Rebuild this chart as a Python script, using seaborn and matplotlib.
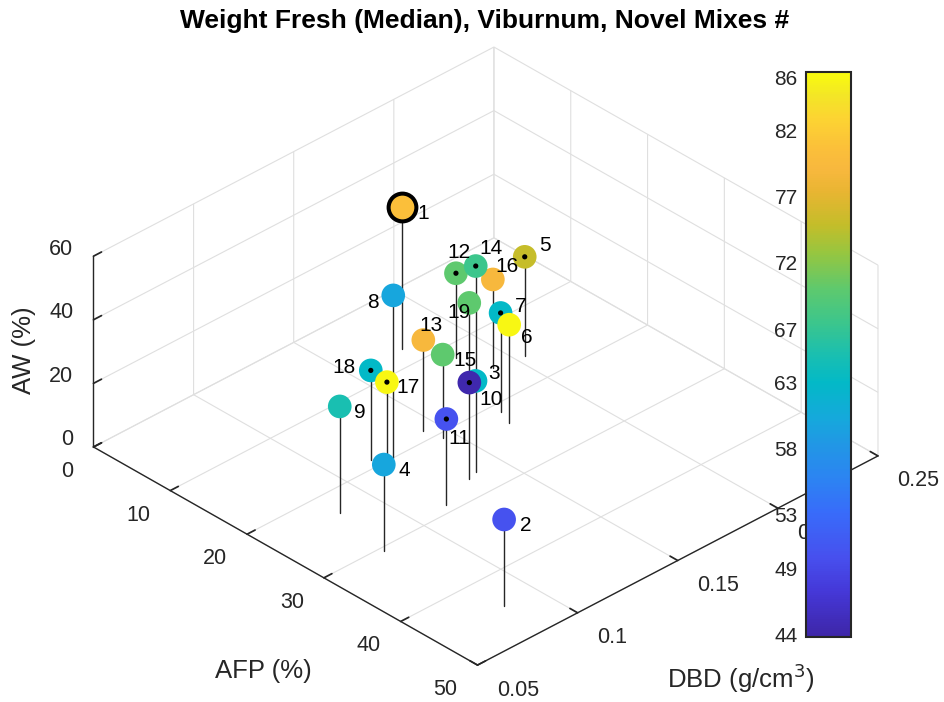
import numpy as np
import matplotlib
matplotlib.use("Agg")
import matplotlib.pyplot as plt
import seaborn as sns
from matplotlib.colors import LinearSegmentedColormap, Normalize
from matplotlib.cm import ScalarMappable
from mpl_toolkits.mplot3d import proj3d

# ---------------- data ----------------
mix_ids = [str(i) for i in range(1, 20)]
afp = [7.6, 44.6, 27.3, 30.5, 16.0, 23.1, 21.2, 20.0, 23.2, 26.8,
       29.0, 12.0, 18.7, 16.4, 20.7, 15.5, 21.0, 18.9, 16.6]
dbd = [0.175, 0.084, 0.133, 0.078, 0.204, 0.169, 0.172, 0.123, 0.084, 0.138,
       0.115, 0.185, 0.143, 0.178, 0.145, 0.190, 0.116, 0.116, 0.174]
aw = [44.8, 27.2, 30.4, 27.1, 31.1, 31.0, 31.1, 51.1, 33.4, 28.6,
      27.2, 26.7, 28.7, 37.3, 26.2, 27.9, 27.5, 28.3, 27.3]
weight_fresh = [80.5, 50, 44.2, 60, 75, 86, 63, 60, 65, 63,
                50, 70, 79, 67.5, 70, 79, 86, 63, 70]
dotted = [False, False, True, False, True, False, True, False, False, False,
          True, True, False, True, False, False, True, True, False]
highlight = "1"
afp_ticks = [0, 10, 20, 30, 40, 50]
afp_ticklabels = ["0", "10", "20", "30", "40", "50"]
dbd_ticks = [0.05, 0.1, 0.15, 0.2, 0.25]
dbd_ticklabels = ["0.05", "0.1", "0.15", "0.2", "0.25"]
aw_ticks = [0, 20, 40, 60]
aw_ticklabels = ["0", "20", "40", "60"]
cbar_ticks = [44, 49, 53, 58, 63, 67, 72, 77, 82, 86]
title = "Weight Fresh (Median), Viburnum, Novel Mixes #"
xlabel, ylabel, zlabel = "AFP (%)", "DBD (g/cm$^3$)", "AW (%)"

# label offsets in pixels (right, down) relative to marker centre
label_offsets = {"1": (21, 7), "2": (22, 6.5), "3": (25, -9.5), "4": (21, 6),
                 "5": (20, -11), "6": (18, 13), "7": (20, -6), "8": (-20, 7),
                 "9": (20.5, 6.5), "10": (15.5, 19), "11": (13, 19),
                 "12": (3, -21), "13": (8, -15), "14": (15, -18),
                 "15": (22.5, 6), "16": (14, -12.5), "17": (21, 5.5),
                 "18": (-27, -3), "19": (-10, 10)}

# ---------------- style ----------------
sns.set_theme(style="white")
plt.rcParams["font.family"] = ["Liberation Sans", "DejaVu Sans"]
plt.rcParams["grid.color"] = "#dfdfdf"
plt.rcParams["grid.linewidth"] = 0.8
if "axes3d.automargin" in plt.rcParams:
    plt.rcParams["axes3d.automargin"] = False

TXT = "#262626"
parula_pos = [0.0, 0.08, 0.14, 0.22, 0.28, 0.34, 0.385, 0.45, 0.50, 0.56,
              0.615, 0.68, 0.73, 0.79, 0.83, 0.865, 0.92, 0.96, 1.0]
parula_hex = ["#3E26A8", "#4538D8", "#4750EE", "#386CFA", "#2C84F2", "#2197E5",
              "#16A8DC", "#03B9C7", "#1ABFB0", "#3EC68A", "#5DC96E", "#96C640",
              "#C4BD2A", "#E9B532", "#F8B83E", "#FBBF3A", "#FCD432", "#F3E626",
              "#F9FB0E"]
parula = LinearSegmentedColormap.from_list("parula", list(zip(parula_pos, parula_hex)))
norm = Normalize(vmin=43.8, vmax=86.4)

W_PX, H_PX = 944, 702
fig = plt.figure(figsize=(W_PX / 100, H_PX / 100), dpi=100)
fig.patch.set_facecolor("white")
ax = fig.add_axes([0.1, 0.1, 0.7, 0.7 * W_PX / H_PX], projection="3d")
ax.set_proj_type("ortho")
ax.view_init(elev=33.0, azim=-43.8)
ax.set_box_aspect((1, 1, 0.41))
ax.computed_zorder = False
ax.patch.set_alpha(0)

ax.set_xlim(0, 50)
ax.set_ylim(0.05, 0.25)
ax.set_zlim(0, 60)
ax.set_xticks(afp_ticks)
ax.set_yticks(dbd_ticks)
ax.set_zticks(aw_ticks)
ax.zaxis.set_ticks_position("lower")
ax.zaxis.set_label_position("lower")

for axis in (ax.xaxis, ax.yaxis, ax.zaxis):
    axis.set_pane_color((1, 1, 1, 0))
    axis.pane.set_edgecolor("#dfdfdf")
    axis.line.set_color(TXT)
    axis.line.set_linewidth(1.0)
    axis._axinfo["tick"]["inward_factor"] = 0.0
    axis._axinfo["tick"]["outward_factor"] = 0.25
    axis._axinfo["tick"]["color"] = TXT
ax.grid(True)
ax.tick_params(labelcolor="none")

df_x = np.array(afp); df_y = np.array(dbd); df_z = np.array(aw)
vals = np.array(weight_fresh)
is_hi = np.array([m == highlight for m in mix_ids])
is_dot = np.array(dotted)

for x, y, z in zip(df_x, df_y, df_z):
    ax.plot([x, x], [y, y], [0, z], color=TXT, lw=1.0, zorder=1)

ax.scatter(df_x[~is_hi], df_y[~is_hi], df_z[~is_hi], c=vals[~is_hi], cmap=parula,
           norm=norm, s=290, edgecolors="none", depthshade=False, zorder=2)
ax.scatter(df_x[is_hi], df_y[is_hi], df_z[is_hi], c=vals[is_hi], cmap=parula,
           norm=norm, s=400, edgecolors="black", linewidths=2.9,
           depthshade=False, zorder=2)
ax.scatter(df_x[is_dot], df_y[is_dot], df_z[is_dot], c="black", s=14,
           edgecolors="none", depthshade=False, zorder=3)

# ---- fit the projected box to the reference layout ----
fig.canvas.draw()


def proj2d(x, y, z):
    X, Y, _ = proj3d.proj_transform(np.atleast_1d(np.asarray(x, float)),
                                    np.atleast_1d(np.asarray(y, float)),
                                    np.atleast_1d(np.asarray(z, float)), ax.get_proj())
    return X, Y


def to_px(x, y, z):
    X, Y = proj2d(x, y, z)
    return ax.transData.transform(np.column_stack([X, Y]))


corners = np.array([[0, 0.05, 0], [50, 0.25, 0], [50, 0.05, 0], [0, 0.25, 60]])
target = np.array([[93.5, H_PX - 447], [878, H_PX - 456],
                   [476.7, H_PX - 665], [494.7, H_PX - 47]])
for _ in range(2):
    p = to_px(corners[:, 0], corners[:, 1], corners[:, 2])
    bb = ax.get_position()
    c = np.array([(bb.x0 + bb.width / 2) * W_PX, (bb.y0 + bb.height / 2) * H_PX])
    W = bb.width * W_PX
    q = (p - c) / W
    qm = q.mean(axis=0); dm = target.mean(axis=0)
    Wn = np.sum((q - qm) * (target - dm)) / np.sum((q - qm) ** 2)
    cn = dm - Wn * qm
    ax.set_position([(cn[0] - Wn / 2) / W_PX, (cn[1] - Wn / 2) / H_PX,
                     Wn / W_PX, Wn / H_PX])
    fig.canvas.draw()

# ---- tick labels (MATLAB-like placement) ----
TICK_FS = 15.5
for t, lab in zip(afp_ticks, afp_ticklabels):
    X, Y = proj2d(t, 0.05, 0)
    ax.annotate(lab, xy=(X[0], Y[0]), xytext=(-20, -24.5), textcoords="offset pixels",
                ha="right", va="center", fontsize=TICK_FS, color=TXT,
                annotation_clip=False)
for t, lab in zip(dbd_ticks, dbd_ticklabels):
    X, Y = proj2d(50, t, 0)
    ax.annotate(lab, xy=(X[0], Y[0]), xytext=(19.5, -25), textcoords="offset pixels",
                ha="left", va="center", fontsize=TICK_FS, color=TXT,
                annotation_clip=False)
for t, lab in zip(aw_ticks, aw_ticklabels):
    X, Y = proj2d(0, 0.05, t)
    ax.annotate(lab, xy=(X[0], Y[0]), xytext=(-20, 7), textcoords="offset pixels",
                ha="right", va="center", fontsize=TICK_FS, color=TXT,
                annotation_clip=False)

# ---- mix number labels ----
for mid, x, y, z in zip(mix_ids, df_x, df_y, df_z):
    X, Y = proj2d(x, y, z)
    dx, dy = label_offsets[mid]
    ax.annotate(mid, xy=(X[0], Y[0]), xytext=(dx, -dy), textcoords="offset pixels",
                ha="center", va="center", fontsize=15, color="black",
                annotation_clip=False, zorder=5)

# ---- axis labels ----
fig.text(263 / W_PX, 1 - 671 / H_PX, xlabel, ha="center", va="center",
         fontsize=18.5, color=TXT)
fig.text(741 / W_PX, 1 - 678 / H_PX, ylabel, ha="center", va="center",
         fontsize=18.5, color=TXT)
fig.text(24 / W_PX, 1 - 350 / H_PX, zlabel, ha="center", va="center",
         fontsize=18.5, color=TXT, rotation=90)

# ---- colorbar ----
cax = fig.add_axes([806 / W_PX, (H_PX - 637) / H_PX, 45 / W_PX, 565 / H_PX])
sm = ScalarMappable(norm=norm, cmap=parula)
cb = fig.colorbar(sm, cax=cax, ticks=cbar_ticks)
cb.ax.set_yticklabels([str(t) for t in cbar_ticks])
cb.outline.set_linewidth(1.5)
cb.outline.set_edgecolor(TXT)
cax.yaxis.set_ticks_position("left")
cax.yaxis.set_label_position("left")
cax.tick_params(direction="in", length=5, width=1.2, labelsize=15,
                colors=TXT, left=True, right=False,
                labelleft=True, labelright=False, pad=6)

fig.text(485 / W_PX, 1 - 21 / H_PX, title,
         ha="center", va="center", fontsize=19, fontweight="bold", color="black")

fig.savefig("out.png", dpi=100)
